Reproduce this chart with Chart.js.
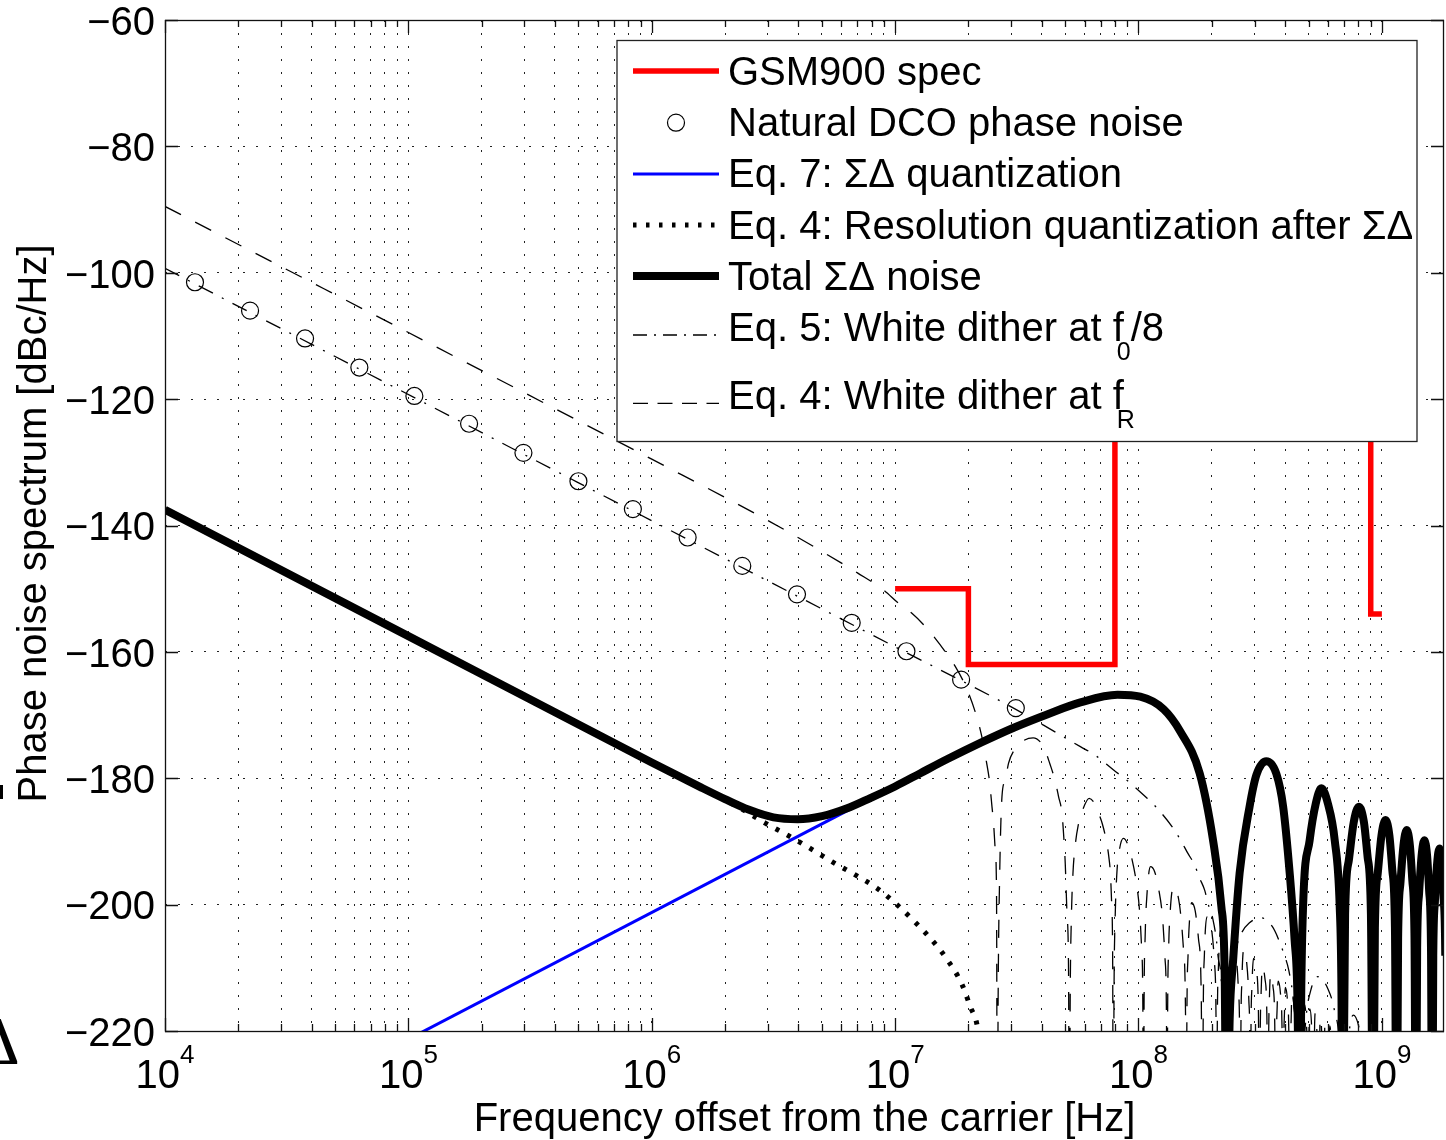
<!DOCTYPE html>
<html>
<head>
<meta charset="utf-8">
<title>Phase noise spectrum</title>
<script src="https://cdn.jsdelivr.net/npm/chart.js@4.4.0/dist/chart.umd.min.js"></script>
<style>
  html, body { margin: 0; padding: 0; background: #fff; overflow: hidden; }
  canvas { display: block; }
</style>
</head>
<body>
<canvas id="grafico" width="1446" height="1140"></canvas>
<script>
// ---- axes ----
var xDecades = [1e4, 1e5, 1e6, 1e7, 1e8, 1e9];
var xDecadeExp = ['4', '5', '6', '7', '8', '9'];
var xGridValues = [1e4, 2e4, 3e4, 4e4, 5e4, 6e4, 7e4, 8e4, 9e4,
                   1e5, 2e5, 3e5, 4e5, 5e5, 6e5, 7e5, 8e5, 9e5,
                   1e6, 2e6, 3e6, 4e6, 5e6, 6e6, 7e6, 8e6, 9e6,
                   1e7, 2e7, 3e7, 4e7, 5e7, 6e7, 7e7, 8e7, 9e7,
                   1e8, 2e8, 3e8, 4e8, 5e8, 6e8, 7e8, 8e8, 9e8,
                   1e9];
var yTickValues = [-60, -80, -100, -120, -140, -160, -180, -200, -220];
var yTickLabels = ['\u221260', '\u221280', '\u2212100', '\u2212120', '\u2212140', '\u2212160', '\u2212180', '\u2212200', '\u2212220'];

var seriesNames = [
    'GSM900 spec',
    'Natural DCO phase noise',
    'Eq. 7: \u03A3\u0394 quantization',
    'Eq. 4: Resolution quantization after \u03A3\u0394',
    'Total \u03A3\u0394 noise',
    'Eq. 5: White dither at f_0/8',
    'Eq. 4: White dither at f_R'
];

// ---- series: [frequency Hz, dBc/Hz] ----
var gsmSpec = [[1e7, -150], [2e7, -150], [2e7, -162], [8e7, -162], [8e7, -105], [9e8, -105], [9e8, -154], [1e9, -154]];

var naturalDco = [[1.328e4, -101.5], [2.236e4, -106.0], [3.762e4, -110.4], [6.289e4, -115.0], [1.0585e5, -119.5],
                  [1.776e5, -123.9], [2.970e5, -128.5], [4.997e5, -133.0], [8.365e5, -137.4], [1.404e6, -141.9],
                  [2.355e6, -146.4], [3.952e6, -150.9], [6.631e6, -155.4], [1.113e7, -159.9], [1.867e7, -164.4],
                  [3.133e7, -168.9]];

var eq7SigmaDelta = [[1e5, -221.3], [6.6e6, -184.8]];

var eq4Resolution = [[1e4, -137.5], [1e6, -177.5], [2.375e6, -185.0], [2.926e6, -187.1], [3.65e6, -189.1],
                     [4.48e6, -191.1], [5.5e6, -193.2], [6.86e6, -195.3], [8.42e6, -197.4], [1.017e7, -200.0],
                     [1.21e7, -202.8], [1.438e7, -205.9], [1.658e7, -209.0], [1.882e7, -212.6], [2.049e7, -216.4],
                     [2.148e7, -218.3], [2.3e7, -224]];

var totalNoise = [[1e4, -137.5], [1e5, -157.5], [1e6, -177.5], [1.585e6, -181.4], [2e6, -183.3], [2.512e6, -185.0],
                  [3.162e6, -186.2], [3.981e6, -186.5], [5.012e6, -186.0], [6.31e6, -184.8], [7.943e6, -183.1],
                  [1e7, -181.3], [1.27e7, -179.2], [1.633e7, -177.0], [2.24e7, -174.4], [3.07e7, -172.0],
                  [4.21e7, -169.9], [5.77e7, -168.0], [8.2e7, -166.8], [1.017e8, -167.1], [1.27e8, -169.1],
                  [1.485e8, -172.6], [1.783e8, -179.2], [2.024e8, -189.8],
                  [2.19e8, -200.3], [2.26e8, -210.9], [2.30e8, -245],
                  [2.37e8, -218], [2.446e8, -209], [2.603e8, -195], [2.86e8, -184.5], [3.05e8, -179.5], [3.35e8, -177.3],
                  [3.685e8, -179.3], [3.93e8, -184.5], [4.18e8, -195], [4.38e8, -205.6], [4.5e8, -215], [4.6e8, -245],
                  [4.66e8, -215], [4.745e8, -200.3], [5.05e8, -189.8], [5.35e8, -184], [5.64e8, -181.6], [6.0e8, -184],
                  [6.4e8, -189.8], [6.71e8, -200.3], [6.82e8, -213], [6.9e8, -245],
                  [7.061e8, -201.5], [7.314e8, -193], [7.659e8, -187], [8.05e8, -184.5], [8.441e8, -187], [8.74e8, -192.5],
                  [9.016e8, -201.5], [9.2e8, -245],
                  [9.361e8, -203.6], [9.614e8, -195.1], [9.959e8, -189.1], [1.035e9, -186.6], [1.0741e9, -189.1],
                  [1.104e9, -194.6], [1.1316e9, -203.6], [1.15e9, -245],
                  [1.1661e9, -205.2], [1.1914e9, -196.7], [1.2259e9, -190.7], [1.265e9, -188.2], [1.3041e9, -190.7],
                  [1.334e9, -196.2], [1.3616e9, -205.2], [1.38e9, -245],
                  [1.3961e9, -206.8], [1.4214e9, -198.3], [1.4559e9, -192.3], [1.495e9, -189.8], [1.5341e9, -192.3],
                  [1.564e9, -197.8], [1.5916e9, -206.8], [1.61e9, -245],
                  [1.6261e9, -208.1], [1.6514e9, -199.6], [1.6859e9, -193.6], [1.725e9, -191.1], [1.7641e9, -193.6],
                  [1.794e9, -199.1], [1.8216e9, -208.1], [1.84e9, -245]];

var eq5DitherF0 = [[1e4, -99.3], [1e7, -159.2], [3e7, -168.7], [4.07e7, -171.6], [5.77e7, -175.0], [6.6e7, -176.3],
                   [7.9e7, -178.7], [8.96e7, -180.3], [1.066e8, -182.9], [1.19e8, -184.7], [1.394e8, -188.0],
                   [1.5e8, -190.0], [1.596e8, -191.9], [1.7e8, -193.7], [1.783e8, -195.8], [1.87e8, -197.7],
                   [1.93e8, -199.8], [2.024e8, -202.4], [2.09e8, -205.6], [2.123e8, -208.2], [2.2e8, -214], [2.29e8, -245],
                   [2.33e8, -225], [2.4e8, -213], [2.52e8, -207], [2.65e8, -204.5], [2.85e8, -202.9], [3.2e8, -202.1],
                   [3.55e8, -203.5], [3.8e8, -205.9], [3.95e8, -207.7], [4.15e8, -210.5], [4.35e8, -216], [4.5e8, -225],
                   [4.58e8, -245],
                   [4.65e8, -232], [4.85e8, -219], [5.15e8, -213], [5.46e8, -211.4], [5.98e8, -213.2], [6.4e8, -217],
                   [6.75e8, -226], [6.88e8, -245],
                   [7.0e8, -232], [7.3e8, -221], [7.63e8, -217.5], [8.0e8, -219], [8.4e8, -224], [8.8e8, -235], [9.2e8, -245]];

// Eq. 4 white dither at fR, frequency in MHz
var eq4DitherFrMHz = [[0.01, -89.5], [1, -129.5], [3, -139.2], [5, -144.1], [7, -147.5], [8.96, -150.2],
    [10.33, -152.3], [11.72, -153.9], [13.09, -155.7], [14.61, -157.85], [16.07, -159.97], [17.66, -162.3],
    [19.1, -164.7], [20.04, -166.55], [21.34, -169.5], [22.23, -171.9], [22.96, -174.3], [23.68, -177.2],
    [24.43, -180.5], [25.0, -184.5], [25.38, -187.1], [25.79, -191.35], [26.1, -198], [26.3, -245],
    [26.5, -215], [26.9, -195], [27.48, -182.9], [28.35, -180.3], [29.25, -177.6], [31.16, -175.3], [33.5, -174.1],
    [36.9, -173.6], [40.7, -175.0], [43.4, -177.9], [45.5, -180.5], [46.94, -182.9], [48.47, -185.5], [49.2, -188.7],
    [50.0, -193.45], [50.83, -201.4], [51.6, -210.9], [52.0, -245],
    [52.4, -215], [53.0, -202], [53.8, -195], [55, -190.5], [56.5, -187.5], [59, -185], [62.7, -183.2], [66, -184],
    [69, -185.8], [71, -187.2], [73.5, -189.6], [75.5, -192.4], [76.7, -195.2], [77.6, -200], [78.3, -208], [78.8, -245],
    [79.3, -215], [80.2, -202], [81.5, -195], [83.5, -191.3], [86.6, -189.5], [90, -190.3], [94, -192.8], [98, -196.5],
    [101, -201], [103, -207], [104.2, -216], [104.8, -245],
    [105.4, -216], [106.5, -205], [108.3, -198.5], [112, -194], [116.5, -194.8], [121, -197.5], [125.5, -202],
    [128.5, -208.5], [130.3, -218], [131, -245],
    [131.7, -218], [133, -207], [135.3, -200.5], [139, -197.2], [144, -198], [149, -201.5], [153, -207], [156, -217], [157.2, -245],
    [158, -219], [159.8, -208], [162, -202.5], [165.5, -199.7], [171, -201], [176.5, -205.5], [181, -214], [183.4, -245],
    [184.3, -220], [186.5, -208], [192, -201.9], [199, -203.5], [205, -209], [208.5, -220], [209.6, -245],
    [210.6, -221], [213, -210], [218, -203.9], [225, -205.8], [231, -211], [235, -224], [235.8, -245],
    [237, -221], [239.5, -211], [244, -205.6], [251, -207.5], [257, -213], [261, -225], [262, -245],
    [263.3, -222], [266, -212], [270.5, -207.1], [278, -209], [284, -215], [287.5, -228], [288.2, -245],
    [289.6, -222], [292.5, -213], [297, -208.5], [305, -210.5], [311, -217], [314.4, -245],
    [316, -223], [319, -214], [323, -209.8], [331, -211.8], [337, -218], [340.6, -245],
    [342.3, -223], [345, -215], [349, -211], [357, -213], [363, -219], [366.8, -245],
    [368.5, -224], [371.5, -216], [375, -212.1], [383, -214], [389, -220], [393, -245],
    [395, -224], [398, -217], [401, -213.1], [409, -215], [415, -221], [419.2, -245],
    [421, -225], [424, -218], [427, -214], [435, -216], [441, -222], [445.4, -245],
    [447.5, -226], [453, -214.9], [462, -217], [468, -224], [471.6, -245],
    [473.8, -226], [479, -215.7], [488, -218], [494, -225], [497.8, -245],
    [500, -227], [505.5, -216.5], [514, -219], [520, -226], [524, -245],
    [526.5, -227], [532, -217.2], [540, -219.5], [546, -227], [550.2, -245],
    [553, -228], [558, -217.9], [566, -220.5], [576.4, -245],
    [579, -228], [584, -218.6], [592, -221], [602.6, -245],
    [605.5, -229], [610, -219.2], [618, -222], [628.8, -245],
    [632, -229], [636, -219.8], [644, -222.5], [655, -245]];

// ---- styles ----
var FONT = '"Liberation Sans", Arial, Helvetica, sans-serif';
var styles = [
    { color: '#ff0000', width: 5.5, dash: [], legendDash: [] },
    { color: '#000', width: 1.2, dash: [], legendDash: [], marker: 8.5 },
    { color: '#0000ff', width: 3, dash: [], legendDash: [] },
    { color: '#000', width: 5, dash: [4, 9], legendDash: [3.5, 9.5] },
    { color: '#000', width: 8, dash: [], legendDash: [] },
    { color: '#000', width: 1.3, dash: [16, 10, 2, 10], legendDash: [14, 7, 2, 7] },
    { color: '#000', width: 1.3, dash: [18, 16], legendDash: [15, 9.5] }
];

function pts(arr, k) {
    return arr.map(function (p) { return { x: p[0] * (k || 1), y: p[1] }; });
}

function lineSet(data, s, order, smooth) {
    return {
        data: data, showLine: true, pointRadius: 0, borderColor: s.color, borderWidth: s.width,
        borderDash: s.dash, fill: false, clip: 0, order: order,
        cubicInterpolationMode: smooth ? 'monotone' : 'default', tension: 0, capBezierPoints: false
    };
}

var datasets = [
    lineSet(pts(gsmSpec), styles[0], 0, false),
    { data: pts(naturalDco), showLine: false, pointRadius: styles[1].marker, pointHoverRadius: styles[1].marker,
      pointBorderWidth: styles[1].width, pointBorderColor: '#000', pointBackgroundColor: 'rgba(0,0,0,0)', clip: 0, order: 2 },
    lineSet(pts(eq7SigmaDelta), styles[2], 3, false),
    lineSet(pts(eq4Resolution), styles[3], 4, true),
    lineSet(pts(totalNoise), styles[4], 1, true),
    lineSet(pts(eq5DitherF0), styles[5], 5, true),
    lineSet(pts(eq4DitherFrMHz, 1e6), styles[6], 6, true)
];

// ---- legend + axes frame drawn like matlab ----
var legendBox = { x: 617, y: 40.5, w: 800, h: 401 };
var legendRows = [
    { sy: 71, by: 85 }, { sy: 122.7, by: 136 }, { sy: 174, by: 187 }, { sy: 225, by: 238.5 },
    { sy: 276, by: 289.5 }, { sy: 335, by: 341 }, { sy: 403.3, by: 409 }
];

function drawRich(ctx, str, x, y) {
    var parts = str.split(/_(.)/);
    var cx = x;
    parts.forEach(function (p, i) {
        if (i % 2) {
            ctx.font = '25px ' + FONT;
            cx -= 7;
            ctx.fillText(p, cx, y + 19);
        } else {
            ctx.font = '40px ' + FONT;
            ctx.fillText(p, cx, y);
        }
        cx += ctx.measureText(p).width;
    });
}

function drawLegend(ctx) {
    ctx.save();
    ctx.fillStyle = '#fff';
    ctx.fillRect(legendBox.x, legendBox.y, legendBox.w, legendBox.h);
    ctx.strokeStyle = '#222';
    ctx.lineWidth = 1.3;
    ctx.setLineDash([]);
    ctx.strokeRect(legendBox.x, legendBox.y, legendBox.w, legendBox.h);
    legendRows.forEach(function (r, i) {
        var s = styles[i];
        if (s.marker) {
            ctx.beginPath();
            ctx.lineWidth = s.width;
            ctx.strokeStyle = s.color;
            ctx.setLineDash([]);
            ctx.arc(676, r.sy, s.marker, 0, Math.PI * 2);
            ctx.stroke();
        } else {
            ctx.beginPath();
            ctx.lineWidth = s.width;
            ctx.strokeStyle = s.color;
            ctx.setLineDash(s.legendDash);
            ctx.moveTo(633, r.sy);
            ctx.lineTo(719, r.sy);
            ctx.stroke();
        }
        ctx.fillStyle = '#000';
        ctx.textAlign = 'left';
        ctx.textBaseline = 'alphabetic';
        drawRich(ctx, seriesNames[i], 728, r.by);
    });
    ctx.restore();
}

var matlabFrame = {
    id: 'matlabFrame',
    afterDatasetsDraw: function (chart) {
        var ctx = chart.ctx, a = chart.chartArea, x = chart.scales.x, y = chart.scales.y;
        ctx.save();
        ctx.strokeStyle = '#111';
        ctx.lineWidth = 1.3;
        ctx.setLineDash([]);
        ctx.beginPath();
        xGridValues.forEach(function (v) {
            var px = Math.round(x.getPixelForValue(v)) + 0.5;
            var len = xDecades.indexOf(v) >= 0 ? 13 : 7;
            ctx.moveTo(px, a.bottom); ctx.lineTo(px, a.bottom - len);
            ctx.moveTo(px, a.top); ctx.lineTo(px, a.top + len);
        });
        yTickValues.forEach(function (v) {
            var py = Math.round(y.getPixelForValue(v)) + 0.5;
            ctx.moveTo(a.left, py); ctx.lineTo(a.left + 13, py);
            ctx.moveTo(a.right, py); ctx.lineTo(a.right - 13, py);
        });
        ctx.stroke();
        ctx.strokeRect(a.left + 0.5, a.top + 0.5, a.right - a.left - 1, a.bottom - a.top);
        ctx.restore();
        drawLegend(ctx);
    },
    afterDraw: function (chart) {
        var ctx = chart.ctx, a = chart.chartArea, x = chart.scales.x, y = chart.scales.y;
        ctx.save();
        ctx.fillStyle = '#000';
        ctx.textBaseline = 'alphabetic';
        // y tick labels
        ctx.font = '40px ' + FONT;
        ctx.textAlign = 'right';
        yTickValues.forEach(function (v, i) {
            ctx.fillText(yTickLabels[i], 155, y.getPixelForValue(v) + 14.8);
        });
        // x tick labels 10^n
        ctx.textAlign = 'left';
        xDecades.forEach(function (v, i) {
            var px = x.getPixelForValue(v);
            ctx.font = '40px ' + FONT;
            var w1 = ctx.measureText('10').width;
            ctx.font = '26px ' + FONT;
            var w2 = ctx.measureText(xDecadeExp[i]).width;
            var x0 = px - (w1 + w2) / 2;
            ctx.font = '40px ' + FONT;
            ctx.fillText('10', x0, 1088);
            ctx.font = '26px ' + FONT;
            ctx.fillText(xDecadeExp[i], x0 + w1, 1063);
        });
        // axis titles
        ctx.font = '40px ' + FONT;
        ctx.textAlign = 'center';
        ctx.fillText('Frequency offset from the carrier [Hz]', (a.left + a.right) / 2, 1131);
        ctx.save();
        ctx.translate(46, (a.top + a.bottom) / 2 - 2);
        ctx.rotate(-Math.PI / 2);
        ctx.fillText('Phase noise spectrum [dBc/Hz]', 0, 0);
        ctx.restore();
        // cropped glyphs from the neighbouring page
        ctx.font = '68px "Liberation Serif", serif';
        ctx.textAlign = 'left';
        ctx.fillText('\u0394', -24, 1063);
        ctx.fillRect(0, 785, 3, 14);
        ctx.restore();
    }
};

var ctx = document.getElementById('grafico').getContext('2d');
var grafico = new Chart(ctx, {
    type: 'scatter',
    data: { datasets: datasets },
    options: {
        responsive: false,
        animation: false,
        events: [],
        layout: { autoPadding: false, padding: { top: 20, right: 2, left: 0, bottom: 0 } },
        plugins: { legend: { display: false }, tooltip: { enabled: false } },
        scales: {
            x: {
                type: 'logarithmic', min: 1e4, max: 1.8e9,
                afterBuildTicks: function (s) { s.ticks = xGridValues.map(function (v) { return { value: v }; }); },
                afterFit: function (s) { s.height = 109; },
                ticks: { display: false },
                grid: { color: '#222', lineWidth: 1, drawTicks: false },
                border: { display: false, dash: [2, 11] }
            },
            y: {
                type: 'linear', min: -220, max: -60,
                afterBuildTicks: function (s) { s.ticks = yTickValues.map(function (v) { return { value: v }; }); },
                afterFit: function (s) { s.width = 165; },
                ticks: { display: false },
                grid: { color: '#222', lineWidth: 1, drawTicks: false },
                border: { display: false, dash: [2, 11] }
            }
        }
    },
    plugins: [matlabFrame]
});
</script>
</body>
</html>
